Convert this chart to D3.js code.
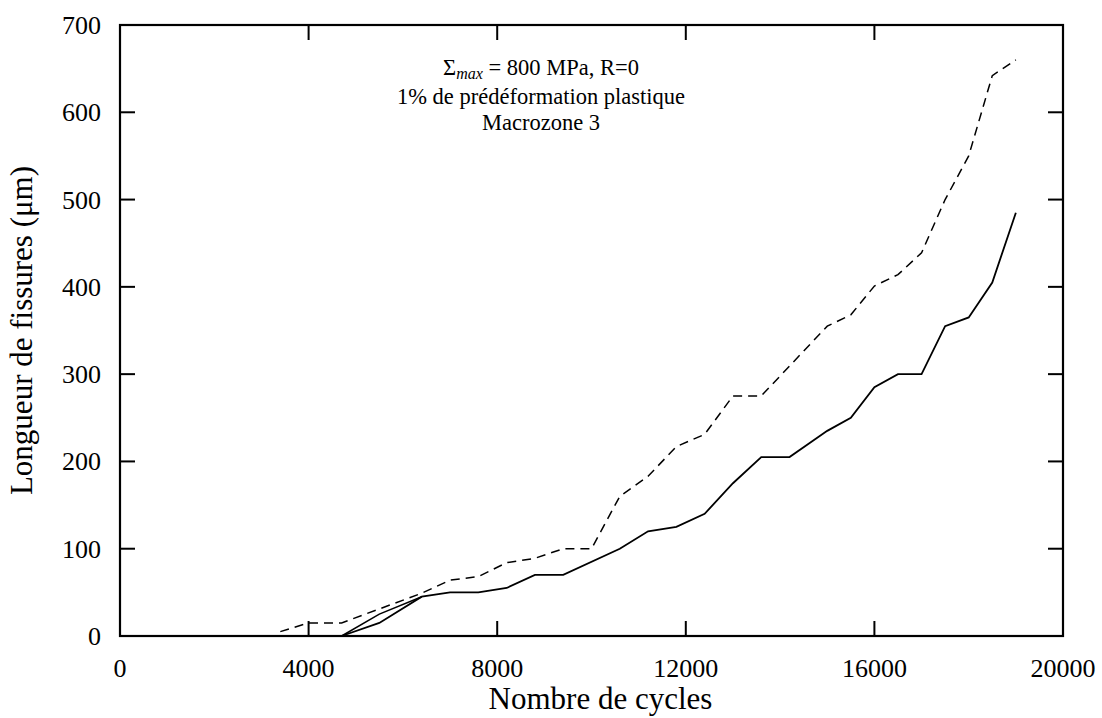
<!DOCTYPE html>
<html>
<head>
<meta charset="utf-8">
<script src="https://cdn.jsdelivr.net/npm/d3@7"></script>
<style>
  body { margin: 0; background: #fff; }
  svg text { font-family: "Liberation Serif", "DejaVu Serif", serif; fill: #000; }
</style>
</head>
<body>
<svg id="chart" width="1102" height="718"></svg>
<script>
// ---- data ----
const xTicks = [0, 4000, 8000, 12000, 16000, 20000];
const yTicks = [0, 100, 200, 300, 400, 500, 600, 700];

const dashedCycles = [3400, 4000, 4700, 6400, 7000, 7600, 8200, 8800, 9400, 10000, 10600, 11200, 11800, 12400, 13000, 13600, 15000, 15500, 16000, 16500, 17000, 17500, 18000, 18500, 19000];
const dashedLength = [5, 15, 15, 49, 64, 68, 84, 89, 100, 100, 160, 183, 217, 231, 275, 275, 355, 368, 401, 414, 439, 500, 550, 642, 660];

const solidCycles = [4700, 5500, 6400, 7000, 7600, 8200, 8800, 9400, 10600, 11200, 11800, 12400, 13000, 13600, 14200, 15000, 15500, 16000, 16500, 17000, 17500, 18000, 18500, 19000];
const solidLength = [0, 15, 45, 50, 50, 55, 70, 70, 100, 120, 125, 140, 175, 205, 205, 235, 250, 285, 300, 300, 355, 365, 405, 485];

const branchCycles = [4700, 5500, 6400];
const branchLength = [0, 25, 45];

const titleLines = ["1% de prédéformation plastique", "Macrozone 3"];
const xLabel = "Nombre de cycles";
const yLabel = "Longueur de fissures (μm)";

// ---- layout ----
const svg = d3.select("#chart");
const L = 120, R = 1063, T = 25, B = 636;
const x = d3.scaleLinear().domain([0, 20000]).range([L, R]);
const y = d3.scaleLinear().domain([0, 700]).range([B, T]);
const tickLen = 15;
const fsTick = 26, fsLab = 31, fsTitle = 22.5;

// ticks (inward, mirrored)
const tg = svg.append("g").attr("stroke", "#000").attr("stroke-width", 2);
xTicks.slice(1, -1).forEach(v => {
  tg.append("line").attr("x1", x(v)).attr("x2", x(v)).attr("y1", B).attr("y2", B - tickLen);
  tg.append("line").attr("x1", x(v)).attr("x2", x(v)).attr("y1", T).attr("y2", T + tickLen);
});
yTicks.slice(1, -1).forEach(v => {
  tg.append("line").attr("x1", L).attr("x2", L + tickLen).attr("y1", y(v)).attr("y2", y(v));
  tg.append("line").attr("x1", R).attr("x2", R - tickLen).attr("y1", y(v)).attr("y2", y(v));
});

// frame
svg.append("rect").attr("x", L).attr("y", T).attr("width", R - L).attr("height", B - T)
  .attr("fill", "none").attr("stroke", "#000").attr("stroke-width", 2.2);

// tick labels
svg.append("g").selectAll("text").data(xTicks).join("text")
  .attr("x", d => x(d)).attr("y", 677).attr("text-anchor", "middle")
  .attr("font-size", fsTick).text(d => d);
svg.append("g").selectAll("text").data(yTicks).join("text")
  .attr("x", 101).attr("y", d => y(d) + 9).attr("text-anchor", "end")
  .attr("font-size", fsTick).text(d => d);

// axis labels
svg.append("text").attr("x", (L + R) / 2 + 9).attr("y", 709).attr("text-anchor", "middle")
  .attr("font-size", fsLab).text(xLabel);
svg.append("text").attr("transform", `translate(32,${(T + B) / 2}) rotate(-90)`)
  .attr("text-anchor", "middle").attr("font-size", fsLab).text(yLabel);

// title
const title = svg.append("text").attr("x", 541).attr("y", 75).attr("text-anchor", "middle").attr("font-size", fsTitle);
title.append("tspan").text("Σ");
title.append("tspan").attr("font-style", "italic").attr("font-size", 16).attr("dy", 4).text("max");
title.append("tspan").attr("dy", -4).text(" = 800 MPa, R=0");
titleLines.forEach((t, i) => {
  svg.append("text").attr("x", 541).attr("y", 104 + i * 26).attr("text-anchor", "middle")
    .attr("font-size", fsTitle).text(t);
});

// lines
const line = d3.line().x(d => x(d[0])).y(d => y(d[1]));
svg.append("path").datum(d3.zip(dashedCycles, dashedLength)).attr("d", line)
  .attr("fill", "none").attr("stroke", "#000").attr("stroke-width", 1.5).attr("stroke-dasharray", "9,6");
svg.append("path").datum(d3.zip(solidCycles, solidLength)).attr("d", line)
  .attr("fill", "none").attr("stroke", "#000").attr("stroke-width", 1.8);
svg.append("path").datum(d3.zip(branchCycles, branchLength)).attr("d", line)
  .attr("fill", "none").attr("stroke", "#000").attr("stroke-width", 1.5);
</script>
</body>
</html>
